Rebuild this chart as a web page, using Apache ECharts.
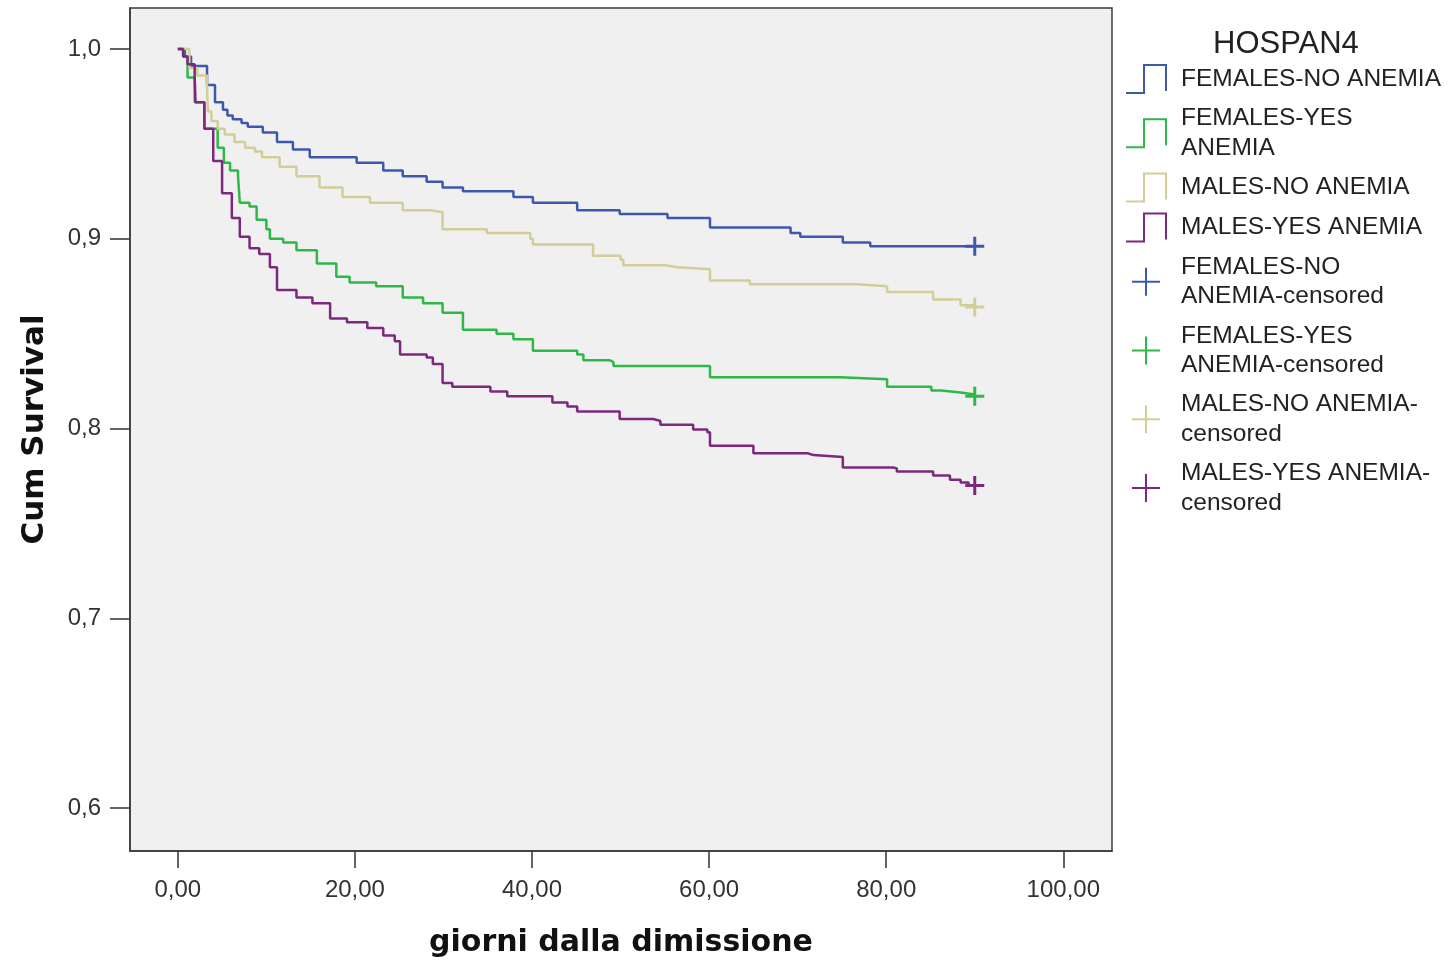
<!DOCTYPE html>
<html>
<head>
<meta charset="utf-8">
<script src="https://cdn.jsdelivr.net/npm/echarts@6/dist/echarts.min.js"></script>
<style>
  html, body { margin: 0; padding: 0; background: #fff; }
  #chart { width: 1452px; height: 961px; }
</style>
</head>
<body>
<div id="chart"></div>
<script>
// Kaplan-Meier steps (time in days, cum survival)
var femNoTime = [0, 0.8, 1.5, 3.3, 4.2, 5.1, 5.6, 6.2, 7.2, 7.9, 9.6, 11.2, 13.0, 14.9, 20.2, 23.2, 25.4, 28.1, 29.9, 32.2, 37.9, 40.1, 45.1, 49.9, 55.3, 60.1, 69.2, 70.3, 75.1, 78.2, 90]
var femNoSurv = [1.0, 0.996, 0.991, 0.981, 0.972, 0.968, 0.965, 0.963, 0.961, 0.959, 0.956, 0.951, 0.947, 0.943, 0.940, 0.936, 0.933, 0.930, 0.927, 0.925, 0.922, 0.919, 0.915, 0.913, 0.911, 0.906, 0.903, 0.901, 0.898, 0.896, 0.896]

var femYesTime = [0, 0.6, 1.1, 1.9, 3.0, 4.5, 5.2, 5.9, 6.8, 7.0, 8.1, 8.9, 10.0, 10.4, 11.9, 13.4, 15.7, 17.9, 19.4, 22.4, 25.4, 27.7, 29.9, 32.2, 36.0, 37.9, 40.1, 45.1, 45.8, 48.8, 49.2, 60.1, 74.8, 80.1, 85.1, 86.2, 88.4, 90]
var femYesSurv = [1.0, 0.996, 0.985, 0.972, 0.958, 0.948, 0.940, 0.936, 0.933, 0.919, 0.917, 0.910, 0.905, 0.900, 0.898, 0.894, 0.887, 0.880, 0.877, 0.875, 0.869, 0.866, 0.861, 0.852, 0.850, 0.847, 0.841, 0.839, 0.836, 0.835, 0.833, 0.827, 0.826, 0.822, 0.820, 0.819, 0.818, 0.817]

var malNoTime = [0, 1.3, 2.2, 3.3, 3.4, 3.8, 4.5, 5.3, 6.4, 7.6, 8.7, 9.5, 11.5, 13.4, 16.0, 18.6, 21.7, 25.4, 28.5, 29.9, 34.9, 39.8, 40.1, 46.9, 50.0, 50.3, 55.0, 56.5, 60.1, 64.6, 76.7, 80.1, 85.3, 88.4, 90]
var malNoSurv = [1.0, 0.990, 0.986, 0.980, 0.967, 0.962, 0.958, 0.955, 0.951, 0.948, 0.946, 0.943, 0.938, 0.933, 0.927, 0.922, 0.919, 0.915, 0.914, 0.905, 0.903, 0.900, 0.897, 0.891, 0.889, 0.886, 0.885, 0.884, 0.878, 0.876, 0.875, 0.872, 0.868, 0.865, 0.864]

var malYesTime = [0, 0.6, 1.1, 1.9, 2.0, 3.0, 4.0, 5.0, 6.1, 7.0, 8.1, 9.2, 10.4, 11.2, 13.4, 15.2, 17.2, 19.1, 21.4, 23.2, 24.5, 25.1, 28.1, 28.8, 29.9, 31.0, 35.3, 37.2, 42.3, 44.0, 45.1, 49.9, 53.7, 54.5, 58.2, 59.8, 60.1, 65.0, 71.1, 71.8, 75.1, 80.8, 81.2, 85.3, 87.2, 88.4, 89.3, 90]
var malYesSurv = [1.0, 0.996, 0.992, 0.986, 0.972, 0.958, 0.941, 0.924, 0.911, 0.901, 0.895, 0.892, 0.885, 0.873, 0.869, 0.866, 0.858, 0.856, 0.853, 0.849, 0.846, 0.839, 0.8375, 0.834, 0.824, 0.822, 0.8195, 0.817, 0.8137, 0.8116, 0.809, 0.805, 0.804, 0.802, 0.7995, 0.798, 0.791, 0.787, 0.786, 0.785, 0.7795, 0.779, 0.7774, 0.7753, 0.773, 0.7716, 0.770, 0.770]

var groupNames = ['FEMALES-NO ANEMIA', 'FEMALES-YES ANEMIA', 'MALES-NO ANEMIA', 'MALES-YES ANEMIA']
var groupColors = ['#3e58ac', '#2eb848', '#d3ce97', '#7c287d']
var censorTime = [90, 90, 90, 90]
var censorSurv = [0.896, 0.817, 0.864, 0.770]

var xTicks = [0, 20, 40, 60, 80, 100]
var yTicks = [0.6, 0.7, 0.8, 0.9, 1.0]

// legend labels wrap like the original
var wrapped = {
  'FEMALES-YES ANEMIA': 'FEMALES-YES\nANEMIA',
  'FEMALES-NO ANEMIA-censored': 'FEMALES-NO\nANEMIA-censored',
  'FEMALES-YES ANEMIA-censored': 'FEMALES-YES\nANEMIA-censored',
  'MALES-NO ANEMIA-censored': 'MALES-NO ANEMIA-\ncensored',
  'MALES-YES ANEMIA-censored': 'MALES-YES ANEMIA-\ncensored'
}

var stepIcon = 'path://M0,28L18,28L18,0L40,0L40,26'
var plusIcon = 'path://M14,0L14,28M0,14L28,14'
var plusMark = 'path://M8,0L11,0L11,19L8,19Z M0,8L19,8L19,11L0,11Z'

function zip(ts, ss) {
  var out = []
  for (var i = 0; i < ts.length; i++) out.push([ts[i], ss[i]])
  return out
}

var curves = [[femNoTime, femNoSurv], [femYesTime, femYesSurv], [malNoTime, malNoSurv], [malYesTime, malYesSurv]]

var series = []
var legendData = []
curves.forEach(function (c, i) {
  series.push({
    name: groupNames[i],
    type: 'line',
    step: 'end',
    showSymbol: false,
    data: zip(c[0], c[1]),
    lineStyle: { color: groupColors[i], width: 2.5 },
    itemStyle: { color: groupColors[i] },
    z: 3
  })
  legendData.push({
    name: groupNames[i],
    icon: stepIcon,
    itemStyle: { color: 'rgba(0,0,0,0)', borderColor: groupColors[i], borderWidth: 2 }
  })
})
groupNames.forEach(function (n, i) {
  series.push({
    name: n + '-censored',
    type: 'scatter',
    symbol: plusMark,
    symbolSize: 19,
    data: [[censorTime[i], censorSurv[i]]],
    itemStyle: { color: groupColors[i], opacity: 1 },
    z: 4
  })
  legendData.push({
    name: n + '-censored',
    icon: plusIcon,
    itemStyle: { color: 'rgba(0,0,0,0)', borderColor: groupColors[i], borderWidth: 2 }
  })
})

function comma(v, d) { return v.toFixed(d).replace('.', ',') }

var chart = echarts.init(document.getElementById('chart'))
chart.setOption({
  animation: false,
  backgroundColor: '#fff',
  title: {
    text: 'HOSPAN4',
    left: 1213,
    top: 29,
    padding: 0,
    textStyle: { fontFamily: 'Liberation Sans', fontSize: 31, fontWeight: 'normal', color: '#222' }
  },
  grid: {
    left: 130, right: 340, top: 8, bottom: 110,
    outerBoundsMode: 'none',
    show: true,
    backgroundColor: '#f0f0f0',
    borderColor: '#3a3a3a',
    borderWidth: 1.5
  },
  legend: {
    orient: 'vertical',
    left: 1120,
    top: 59,
    itemWidth: 42,
    itemHeight: 28,
    itemGap: 9.8,
    selectedMode: false,
    formatter: function (name) { return wrapped[name] || name },
    textStyle: {
      fontFamily: 'Liberation Sans', fontSize: 24.5, color: '#222',
      lineHeight: 29.5, padding: [0, 0, 0, 9]
    },
    data: legendData
  },
  xAxis: {
    type: 'value',
    min: -5.4,
    max: 105.5,
    name: 'giorni dalla dimissione',
    nameLocation: 'middle',
    nameGap: 77,
    nameTextStyle: { fontFamily: 'DejaVu Sans', fontWeight: 'bold', fontSize: 30, color: '#111' },
    axisLine: { show: true, onZero: false, lineStyle: { color: '#3a3a3a', width: 1.5 } },
    axisTick: { show: true, length: 17, customValues: xTicks, lineStyle: { color: '#333', width: 1.5 } },
    axisLabel: {
      customValues: xTicks,
      margin: 27,
      fontFamily: 'Liberation Sans', fontSize: 24, color: '#333',
      formatter: function (v) { return comma(v, 2) }
    },
    splitLine: { show: false }
  },
  yAxis: {
    type: 'value',
    min: 0.5774,
    max: 1.0216,
    name: 'Cum Survival',
    nameLocation: 'middle',
    nameGap: 80,
    nameTextStyle: { fontFamily: 'DejaVu Sans', fontWeight: 'bold', fontSize: 31, color: '#111' },
    axisLine: { show: true, onZero: false, lineStyle: { color: '#3a3a3a', width: 1.5 } },
    axisTick: { show: true, length: 20, customValues: yTicks, lineStyle: { color: '#333', width: 1.5 } },
    axisLabel: {
      customValues: yTicks,
      margin: 29,
      fontFamily: 'Liberation Sans', fontSize: 24, color: '#333',
      formatter: function (v) { return comma(v, 1) }
    },
    splitLine: { show: false }
  },
  series: series
})
</script>
</body>
</html>
